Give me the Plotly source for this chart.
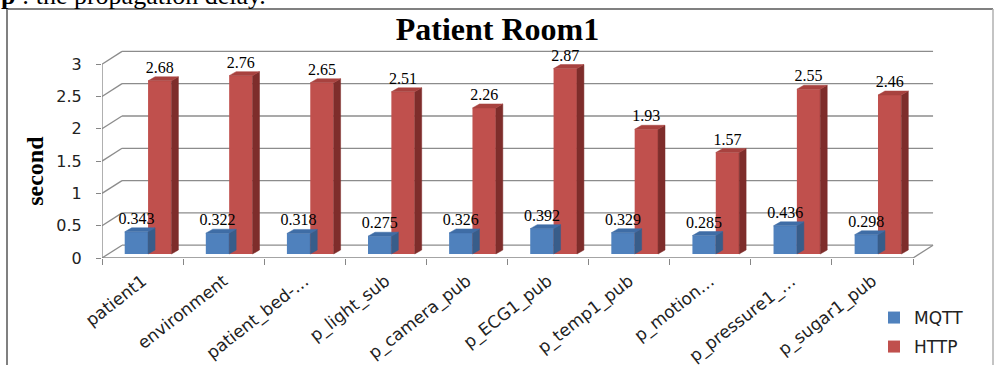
import plotly.graph_objects as go

# ---------------- data ----------------
categories = ["patient1", "environment", "patient_bed-…", "p_light_sub", "p_camera_pub",
              "p_ECG1_pub", "p_temp1_pub", "p_motion…", "p_pressure1_…", "p_sugar1_pub"]
mqtt = [0.343, 0.322, 0.318, 0.275, 0.326, 0.392, 0.329, 0.285, 0.436, 0.298]
http = [2.68, 2.76, 2.65, 2.51, 2.26, 2.87, 1.93, 1.57, 2.55, 2.46]
y_tickvals = [0, 0.5, 1, 1.5, 2, 2.5, 3]
y_ticktext = ["0", "0.5", "1", "1.5", "2", "2.5", "3"]

# ---------------- geometry / style ----------------
WALL_DX, WALL_DY = 0.247, 0.198     # back-wall depth offset (data units)
BAR_BASE = 0.062                    # bars stand mid-depth on the floor
BAR_DX, BAR_DY = 0.086, 0.062       # bar depth
SHIFT, W = 0.068, 0.288
X_MAX = 9.771
Y_MAX = 3.25
GRID = "#8C8C8C"
AX = "#868686"

BLUE, BLUE_TOP, BLUE_SIDE = "#4F81BD", "#3F6DA6", "#385D8A"
RED, RED_TOP, RED_SIDE = "#C0504D", "#A8423F", "#7E2D2B"

n = len(categories)
xs = list(range(n))


def faces(vals, left_off):
    top_x, top_y, side_x, side_y = [], [], [], []
    for i, v in enumerate(vals):
        xl = i + left_off
        xr = xl + W
        t = BAR_BASE + v
        top_x += [xl, xr, xr + BAR_DX, xl + BAR_DX, xl, None]
        top_y += [t, t, t + BAR_DY, t + BAR_DY, t, None]
        side_x += [xr, xr + BAR_DX, xr + BAR_DX, xr, xr, None]
        side_y += [BAR_BASE, BAR_BASE + BAR_DY, t + BAR_DY, t, BAR_BASE, None]
    return top_x, top_y, side_x, side_y


def poly(x, y, color):
    return go.Scatter(x=x, y=y, mode="lines", fill="toself", fillcolor=color,
                      line=dict(color=color, width=0.5), hoverinfo="skip",
                      showlegend=False)


fig = go.Figure()

# MQTT bars
fig.add_trace(go.Bar(x=xs, y=mqtt, base=BAR_BASE, width=W, offset=SHIFT - W,
                     marker=dict(color=BLUE, line=dict(width=0)), name="MQTT",
                     legend="legend"))
btx, bty, bsx, bsy = faces(mqtt, SHIFT - W)
fig.add_trace(poly(bsx, bsy, BLUE_SIDE))
fig.add_trace(poly(btx, bty, BLUE_TOP))

# HTTP bars
fig.add_trace(go.Bar(x=xs, y=http, base=BAR_BASE, width=W, offset=SHIFT,
                     marker=dict(color=RED, line=dict(width=0)), name="HTTP",
                     legend="legend2"))
rtx, rty, rsx, rsy = faces(http, SHIFT)
fig.add_trace(poly(rsx, rsy, RED_SIDE))
fig.add_trace(poly(rtx, rty, RED_TOP))

# data labels
lab_font = dict(family="Liberation Serif", size=16, color="#000000")
fig.add_trace(go.Scatter(x=[i + SHIFT - W / 2 for i in xs],
                         y=[BAR_BASE + v + BAR_DY for v in mqtt],
                         text=[f"{v:g}" for v in mqtt], mode="text",
                         textposition="top center", textfont=lab_font,
                         cliponaxis=False, showlegend=False, hoverinfo="skip"))
fig.add_trace(go.Scatter(x=[i + SHIFT + W / 2 for i in xs],
                         y=[BAR_BASE + v + BAR_DY for v in http],
                         text=[f"{v:g}" for v in http], mode="text",
                         textposition="top center", textfont=lab_font,
                         cliponaxis=False, showlegend=False, hoverinfo="skip"))

# ---------------- wall / floor shapes ----------------
shapes = []
for v in y_tickvals:
    shapes.append(dict(type="line", xref="x", yref="y", x0=-0.5, y0=v,
                       x1=-0.5 + WALL_DX, y1=v + WALL_DY,
                       line=dict(color=GRID, width=1.3), layer="below"))
    shapes.append(dict(type="line", xref="x", yref="y", x0=-0.5 + WALL_DX, y0=v + WALL_DY,
                       x1=n - 0.5 + WALL_DX, y1=v + WALL_DY,
                       line=dict(color=GRID, width=1.3), layer="below"))
# floor right edge
shapes.append(dict(type="line", xref="x", yref="y", x0=n - 0.5, y0=0,
                   x1=n - 0.5 + WALL_DX, y1=WALL_DY,
                   line=dict(color=GRID, width=1.3), layer="below"))
# axes lines
shapes.append(dict(type="line", xref="x", yref="y", x0=-0.5, y0=0, x1=n - 0.5, y1=0,
                   line=dict(color=AX, width=1.3)))
shapes.append(dict(type="line", xref="x", yref="y", x0=-0.5, y0=0, x1=-0.5, y1=y_tickvals[-1],
                   line=dict(color=AX, width=1.3)))


def px_x(p):
    return (p - 102) / 833.0


def px_y(p):
    return (258 - p) / 210.0


# page frame
shapes.append(dict(type="line", xref="paper", yref="paper", x0=px_x(7), x1=px_x(7),
                   y0=px_y(9), y1=px_y(380), line=dict(color="#808080", width=2)))
shapes.append(dict(type="line", xref="paper", yref="paper", x0=px_x(7), x1=px_x(993),
                   y0=px_y(9), y1=px_y(9), line=dict(color="#808080", width=2)))
shapes.append(dict(type="line", xref="paper", yref="paper", x0=px_x(993), x1=px_x(993),
                   y0=px_y(9), y1=px_y(380), line=dict(color="#B0B0B0", width=1.5)))

annotations = [
    dict(text="<b>second</b>", xref="paper", yref="y", x=px_x(35), y=1.35,
         textangle=-90, showarrow=False, xanchor="center", yanchor="middle",
         font=dict(family="Liberation Serif", size=24, color="#000000")),
    dict(text="<b>p</b> : the propagation delay.", xref="paper", yref="paper",
         x=px_x(-1), y=px_y(-5), xanchor="left", yanchor="middle", showarrow=False,
         font=dict(family="Liberation Serif", size=26, color="#000000")),
]

leg_font = dict(family="DejaVu Sans", size=17, color="#222222")

fig.update_layout(
    width=995, height=365,
    margin=dict(l=102, r=60, t=48, b=107, autoexpand=False),
    paper_bgcolor="white", plot_bgcolor="white",
    barmode="overlay",
    title=dict(text="<b>Patient Room1</b>", xref="container", x=0.5, xanchor="center",
               yref="container", y=1 - 29 / 365, yanchor="middle",
               font=dict(family="Liberation Serif", size=32, color="#000000")),
    xaxis=dict(range=[-0.5, X_MAX], tickmode="array", tickvals=xs, ticktext=categories,
               tickangle=-38, ticks="", showgrid=False, zeroline=False, showline=False,
               ticklabelstandoff=9, automargin=False,
               tickfont=dict(family="DejaVu Sans", size=17, color="#222222"),
               minor=dict(ticks="outside", ticklen=6, tickwidth=1.3, tickcolor=AX,
                          tickmode="linear", tick0=-0.5, dtick=1, showgrid=False)),
    yaxis=dict(range=[0, Y_MAX], tickmode="array", tickvals=y_tickvals, ticktext=y_ticktext,
               ticks="outside", ticklen=5, tickwidth=1.3, tickcolor=AX, showgrid=False,
               zeroline=False, showline=False, ticklabelstandoff=11, automargin=False,
               tickfont=dict(family="DejaVu Sans", size=16, color="#222222")),
    legend=dict(xref="container", yref="container", x=874 / 995, y=1 - 318 / 365,
                xanchor="left", yanchor="middle", font=leg_font,
                bgcolor="rgba(0,0,0,0)", borderwidth=0),
    legend2=dict(xref="container", yref="container", x=874 / 995, y=1 - 347 / 365,
                 xanchor="left", yanchor="middle", font=leg_font,
                 bgcolor="rgba(0,0,0,0)", borderwidth=0),
    shapes=shapes,
    annotations=annotations,
    hovermode=False,
)

fig.write_html("out.html")
